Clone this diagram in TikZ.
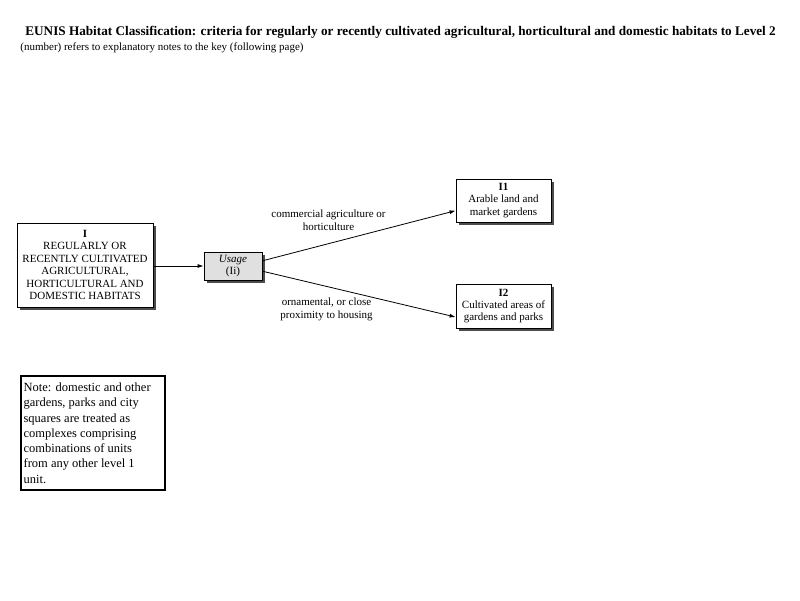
\documentclass[tikz,border=0pt]{standalone}
\usepackage{fontspec}
\setmainfont{Liberation Serif}
\usepackage{tikz}
\usetikzlibrary{shadows}
\usetikzlibrary{arrows.meta}

\begin{document}
\begin{tikzpicture}[x=1pt,y=-1pt,line width=0.8pt,>={Latex[length=6pt,width=4pt]},
   box/.style={draw, fill=white, align=center, inner sep=1pt,
     font=\fontsize{11}{12.4}\selectfont,
     drop shadow={shadow xshift=2.5pt,shadow yshift=-2.5pt,fill=black!70,opacity=1}},
   lbl/.style={align=center, font=\fontsize{11}{12.8}\selectfont}]
   \useasboundingbox[fill=white] (0,0) rectangle (800,600);
   % heading
   \node[anchor=west, inner sep=0pt, font=\fontsize{13.2}{15}\selectfont\bfseries] (title) at (25,32)
     {EUNIS Habitat Classification: criteria for regularly or recently cultivated agricultural, horticultural and domestic habitats to Level 2};
   \node[anchor=west, font=\fontsize{11}{12}\selectfont, inner sep=0pt] (sub) at (20,48)
     {(number) refers to explanatory notes to the key (following page)};
   % boxes
   \node[box, minimum width=136, minimum height=84] (I) at (85,265)
     {\textbf{I}\\REGULARLY OR\\RECENTLY CULTIVATED\\AGRICULTURAL,\\HORTICULTURAL AND\\DOMESTIC HABITATS};
   \node[box, fill=black!12, minimum width=58, minimum height=28] (usage) at (233,266)
     {\textit{Usage}\\(Ii)};
   \node[box, minimum width=95, minimum height=43] (I1) at (503.5,200.5)
     {\textbf{I1}\\Arable land and\\market gardens};
   \node[box, minimum width=95, minimum height=44] (I2) at (503.5,306)
     {\textbf{I2}\\Cultivated areas of\\gardens and parks};
   % connectors
   \draw[->] (I.east |- usage) -- (usage.west);
   \draw[->] (usage.10) -- (I1.192);
   \draw[->] (usage.-10) -- (I2.193);
   \node[lbl] (l1) at (328.5,220.5) {commercial agriculture or\\horticulture};
   \node[lbl] (l2) at (326.5,309.5) {ornamental, or close\\proximity to housing};
   % note
   \node[draw, line width=2.2pt, anchor=north west, align=flush left, inner sep=1.5pt,
     minimum width=144, minimum height=114, text width=139,
     font=\fontsize{12.5}{15.3}\selectfont] (note) at (20,375)
     {Note: domestic and other\\gardens, parks and city\\squares are treated as\\complexes comprising\\combinations of units\\from any other level 1\\unit.};
\end{tikzpicture}
\end{document}
